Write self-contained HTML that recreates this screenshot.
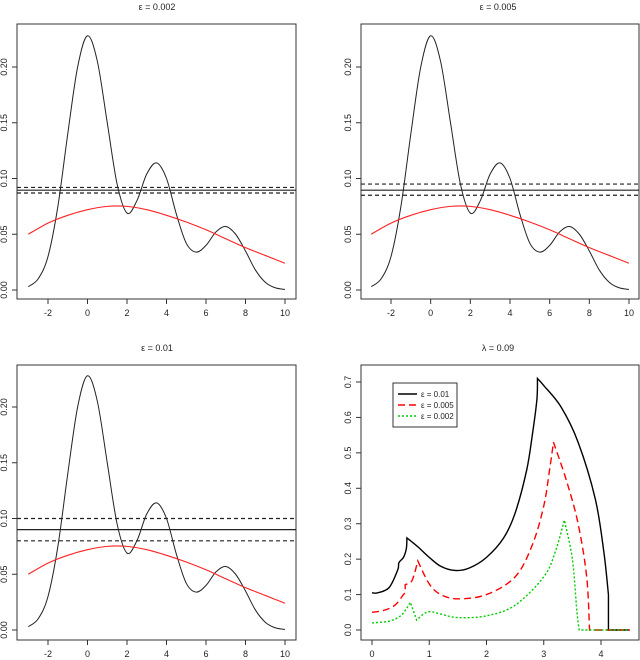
<!DOCTYPE html>
<html><head><meta charset="utf-8"><style>
body{margin:0;background:#fff}
svg{display:block;font-family:"Liberation Sans","DejaVu Sans",sans-serif}
</style></head><body>
<svg id="c" width="640" height="660"></svg>
<script>
// ---- data: density panels ----
const densX = [-3,-2.5,-2,-1.5,-1,-0.5,0,0.5,1,1.5,2,2.5,3,3.5,4,4.5,5,5.5,6,6.5,7,7.5,8,8.5,9,9.5,10];
const densY = [.003,.010,.030,.075,.140,.200,.228,.205,.150,.095,.069,.080,.104,.114,.100,.068,.042,.034,.040,.052,.057,.050,.035,.018,.007,.002,.0005];
const redX = [-3,-2,-1,0,1,2,3,4,5,6,7,8,9,10];
const redY = [.050,.060,.067,.072,.075,.075,.072,.067,.061,.054,.046,.038,.031,.024];
const panelTitles = ["ε = 0.002","ε = 0.005","ε = 0.01"];
const solidLevels = [0.0895,0.0895,0.090];
const dashLo = [0.087,0.085,0.080];
const dashHi = [0.092,0.095,0.100];
const densXTicks = [-2,0,2,4,6,8,10];
const densYTicks = [0,0.05,0.10,0.15,0.20];
const densYLabels = ["0.00","0.05","0.10","0.15","0.20"];
// ---- data: lambda panel ----
const lamTitle = "λ = 0.09";
const blkX = [0,0.1,0.3,0.45,0.47,0.55,0.6,0.61,0.8,1.0,1.2,1.45,1.7,2.0,2.3,2.5,2.7,2.8,2.88,2.89,3.0,3.3,3.6,3.9,4.05,4.13,4.13,4.5];
const blkY = [0.105,0.105,0.12,0.17,0.19,0.205,0.23,0.26,0.235,0.205,0.18,0.168,0.175,0.205,0.26,0.33,0.45,0.55,0.65,0.71,0.69,0.63,0.53,0.37,0.22,0.1,0,0];
const redLX = [0,0.2,0.4,0.55,0.58,0.58,0.7,0.8,1.0,1.2,1.5,2.0,2.5,2.8,3.0,3.1,3.17,3.4,3.6,3.75,3.8,4.5];
const redLY = [0.05,0.055,0.07,0.1,0.105,0.128,0.14,0.195,0.13,0.1,0.088,0.1,0.15,0.24,0.35,0.45,0.53,0.42,0.3,0.15,0,0];
const grnX = [0,0.3,0.5,0.6,0.67,0.78,0.9,1.02,1.2,1.5,2.0,2.5,3.0,3.2,3.36,3.5,3.58,3.62,4.5];
const grnY = [0.02,0.025,0.04,0.06,0.078,0.028,0.045,0.052,0.045,0.035,0.04,0.07,0.15,0.22,0.31,0.2,0.05,0,0];
const lamXTicks = [0,1,2,3,4];
const lamYTicks = [0,0.1,0.2,0.3,0.4,0.5,0.6,0.7];
const legendLabels = ["ε = 0.01","ε = 0.005","ε = 0.002"];

const S = document.getElementById('c');
const NS = 'http://www.w3.org/2000/svg';
function mk(t, a, parent){const e=document.createElementNS(NS,t);for(const k in a)e.setAttribute(k,a[k]);(parent||S).appendChild(e);return e;}
function smoothSeg(pts,first){let d=(first?'M':'L')+pts[0][0]+','+pts[0][1];for(let i=0;i<pts.length-1;i++){const p0=pts[Math.max(0,i-1)],p1=pts[i],p2=pts[i+1],p3=pts[Math.min(pts.length-1,i+2)];const c1=[p1[0]+(p2[0]-p0[0])/6,p1[1]+(p2[1]-p0[1])/6],c2=[p2[0]-(p3[0]-p1[0])/6,p2[1]-(p3[1]-p1[1])/6];d+=' C'+c1[0]+','+c1[1]+' '+c2[0]+','+c2[1]+' '+p2[0]+','+p2[1];}return d;}
function smooth(pts){return smoothSeg(pts,true);}
// smooth, but break at sharp kinks (local peaks / vertical jumps / flat starts)
function kinkSmooth(pts){
  const cuts=[0];
  for(let i=1;i<pts.length-1;i++){
    const a=pts[i-1],b=pts[i],c=pts[i+1];
    const s1=(b[1]-a[1])/Math.max(0.01,b[0]-a[0]), s2=(c[1]-b[1])/Math.max(0.01,c[0]-b[0]);
    const flatStart=Math.abs(c[1]-b[1])<0.01&&Math.abs(b[1]-a[1])>1;
    if(flatStart||Math.abs(b[0]-a[0])<0.5||Math.abs(c[0]-b[0])<0.5||(s1*s2<0&&Math.abs(s1-s2)>1.5)) cuts.push(i);
  }
  cuts.push(pts.length-1);
  let d='';
  for(let k=0;k<cuts.length-1;k++){d+=smoothSeg(pts.slice(cuts[k],cuts[k+1]+1),k===0)+' ';}
  return d;
}

function axes(g, box, sx, sy, xt, xl, yt, yl, title, cx){
  const r = mk('rect',{x:box.x0,y:box.y0,width:box.x1-box.x0,height:box.y1-box.y0,fill:'none',stroke:'#333','stroke-width':1},g);
  
  
  xt.forEach((v,i)=>{const x=sx(v);
    mk('line',{x1:x,x2:x,y1:box.y1,y2:box.y1+5,stroke:'#333'},g);
    const t=mk('text',{x:x,y:box.y1+17,'font-size':9,'text-anchor':'middle',fill:'#222'},g);t.textContent=xl[i];
    
    });
  yt.forEach((v,i)=>{const y=sy(v);
    mk('line',{x1:box.x0-5,x2:box.x0,y1:y,y2:y,stroke:'#333'},g);
    const tx=box.x0-10;
    const t=mk('text',{x:tx,y:y,'font-size':9,'text-anchor':'middle',fill:'#222',transform:`rotate(-90 ${tx} ${y})`},g);t.textContent=yl[i];
    
    });
  const tt=mk('text',{x:cx,y:box.y0-14,'font-size':9,'text-anchor':'middle',fill:'#222'},g);tt.textContent=title;
  
  
}

const panels=[
  {x0:17,x1:296,y0:24,y1:299,xa:48,xb:285,ya:290,yb:67,cx:157},
  {x0:361,x1:639,y0:24,y1:299,xa:391,xb:629,ya:290,yb:67,cx:498},
  {x0:17,x1:296,y0:365,y1:640,xa:48,xb:285,ya:630,yb:407,cx:157}
];
panels.forEach((p,k)=>{
  const g=mk('g',{});
  
  
  const sx=v=>p.xa+(v+2)*(p.xb-p.xa)/12;
  const sy=v=>p.ya+v*(p.yb-p.ya)/0.2;
  axes(g,p,sx,sy,densXTicks,densXTicks.map(String),densYTicks,densYLabels,panelTitles[k],p.cx);
  const lines=[[dashHi[k],'4,3'],[solidLevels[k],''],[dashLo[k],'4,3']];
  lines.forEach(([v,da],j)=>{const l=mk('line',{x1:p.x0,x2:p.x1,y1:sy(v),y2:sy(v),stroke:'#222','stroke-width':1.2,'stroke-dasharray':da},g);
    
    });
  const d=mk('path',{d:smooth(densX.map((x,i)=>[sx(x),sy(densY[i])])),fill:'none',stroke:'#222','stroke-width':1},g);
  
  
  const rr=mk('path',{d:smooth(redX.map((x,i)=>[sx(x),sy(redY[i])])),fill:'none',stroke:'#f22','stroke-width':1.1},g);
  
  
});

// lambda panel
(function(){
  const p={x0:361,x1:639,y0:365,y1:640};
  const g=mk('g',{});
  
  
  const sx=v=>372+v*57.25;
  const sy=v=>630-v*(630-382)/0.7;
  axes(g,p,sx,sy,lamXTicks,lamXTicks.map(String),lamYTicks,lamYTicks.map(v=>v.toFixed(1)),lamTitle,498);
  const ser=[[blkX,blkY,'#000','','series-eps-0.01'],[redLX,redLY,'#f00','7,4','series-eps-0.005'],[grnX,grnY,'#0c0','2,2','series-eps-0.002']];
  ser.forEach(([xs,ys,c,da,nm])=>{
    const pl=mk('path',{d:kinkSmooth(xs.map((x,i)=>[sx(x),sy(ys[i])])),fill:'none',stroke:c,'stroke-width':1.4,'stroke-dasharray':da},g);
    
    
  });
  const lg=mk('g',{},g);
  
  
  mk('rect',{x:393,y:383,width:64,height:44,fill:'#fff',stroke:'#333'},lg);
  ser.forEach(([xs,ys,c,da],i)=>{
    const y=394+i*11;
    const l=mk('line',{x1:398,x2:417,y1:y,y2:y,stroke:c,'stroke-width':1.4,'stroke-dasharray':da},lg);
    
    
    const t=mk('text',{x:421,y:y+3,'font-size':8,fill:'#222'},lg);t.textContent=legendLabels[i];
    
    
  });
})();
</script>
</body></html>
